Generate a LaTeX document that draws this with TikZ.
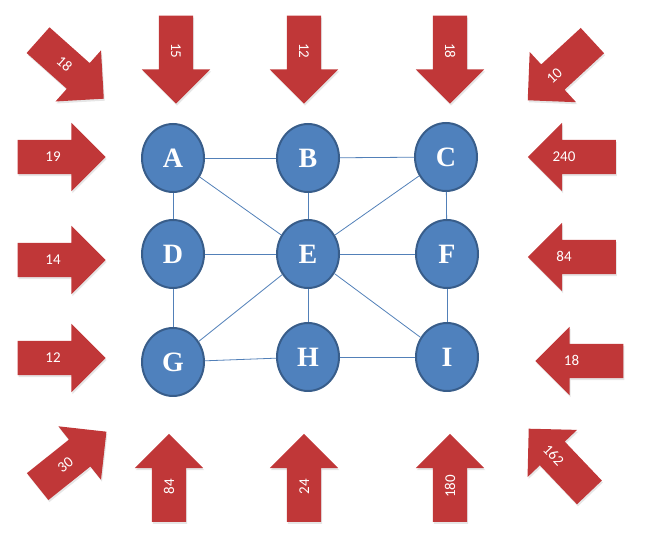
\documentclass[tikz,border=0pt]{standalone}
\usepackage{fontspec}
\setmainfont{Carlito}
\newfontfamily\letterfont{Liberation Serif}
\usetikzlibrary{shapes.geometric,shapes.arrows,shadows}

\definecolor{nodeblue}{RGB}{79,129,189}
\definecolor{nodeedge}{RGB}{56,93,138}
\definecolor{linkblue}{RGB}{82,128,184}
\definecolor{arrowred}{RGB}{192,55,56}

\tikzset{
  station/.style={ellipse, draw=nodeedge, line width=2pt, fill=nodeblue,
    minimum width=62pt, minimum height=68pt, inner sep=0pt,
    text=white, font=\letterfont\bfseries\fontsize{28}{30}\selectfont},
  link/.style={draw=linkblue, line width=0.8pt},
  flowarrow/.style={single arrow, fill=arrowred, draw=none,
    minimum height=88pt, single arrow head extend=17pt,
    text height=10pt, text depth=0pt, inner xsep=0pt, inner ysep=12pt,
    text=white, font=\fontsize{15}{18}\selectfont,
    drop shadow={opacity=0.2, shadow xshift=1pt, shadow yshift=-2pt}},
  backarrow/.style={flowarrow, shape border rotate=180}
}
% label pushed toward the head of a back arrow
\newcommand{\headlabel}[1]{\makebox[0pt]{\hspace*{-33pt}#1}}

\begin{document}
\begin{tikzpicture}[x=1pt, y=-1pt]
  \useasboundingbox (0,0) rectangle (646,534);

  % Stations
  \node[station] (A) at (173,158) {A};
  \node[station] (B) at (308,158) {B};
  \node[station] (C) at (446,157) {C};
  \node[station] (D) at (173,254) {D};
  \node[station] (E) at (308,254) {E};
  \node[station] (F) at (447,254) {F};
  \node[station] (G) at (173,362) {G};
  \node[station] (H) at (308,357) {H};
  \node[station] (I) at (447,357) {I};

  % Links
  \foreach \u/\v in {A/B, B/C, D/E, E/F, G/H, H/I, A/D, D/G, B/E, E/H, C/F, F/I, A/E, C/E, G/E, I/E}
    \draw[link] (\u) -- (\v);

  % Top inflows
  \node[flowarrow, rotate=-41.7] (tl) at (64.5,63.7) {18};
  \node[flowarrow, rotate=-90] (t1) at (176,51) {15};
  \node[flowarrow, rotate=-90] (t2) at (304,51) {12};
  \node[flowarrow, rotate=-90] (t3) at (450,51) {18};
  \node[backarrow, rotate=42.7] (tr) at (566.4,64.6) {\headlabel{10}};

  % Side inflows
  \node[flowarrow] (l1) at (53,157) {19};
  \node[flowarrow] (l2) at (53,260) {14};
  \node[flowarrow] (l3) at (53,358) {12};
  \node[backarrow] (r1) at (580.5,157) {\headlabel{240}};
  \node[backarrow] (r2) at (580.5,257) {\headlabel{84}};
  \node[backarrow] (r3) at (588,361) {\headlabel{18}};

  % Bottom inflows
  \node[flowarrow, rotate=38.6] (bl) at (65.3,464.5) {30};
  \node[flowarrow, rotate=90] (b1) at (169,486.5) {84};
  \node[flowarrow, rotate=90] (b2) at (304,486.5) {24};
  \node[flowarrow, rotate=90] (b3) at (450,486.5) {180};
  \node[backarrow, rotate=-46.4] (br) at (565,466.8) {\headlabel{162}};
\end{tikzpicture}
\end{document}
